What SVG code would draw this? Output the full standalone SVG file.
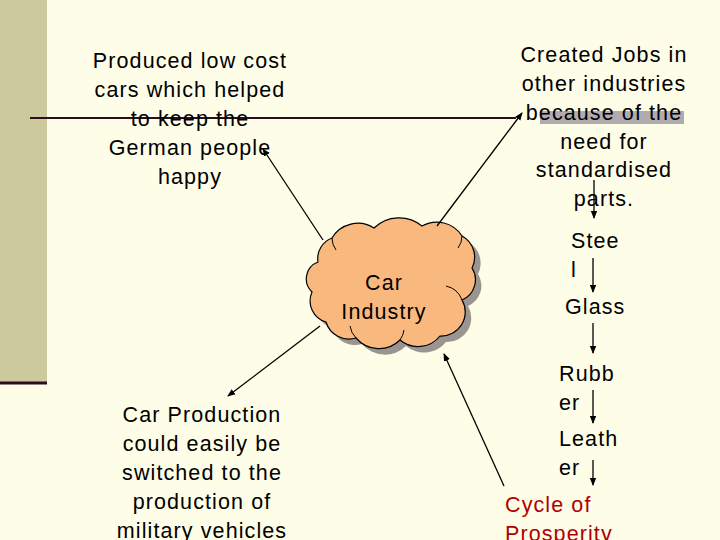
<svg xmlns="http://www.w3.org/2000/svg" width="720" height="540" viewBox="0 0 720 540">
<defs>
<marker id="ah" markerWidth="8" markerHeight="8" refX="7" refY="4" orient="auto" markerUnits="userSpaceOnUse">
<path d="M0,0.8 L8,4 L0,7.2 Z" fill="#000"/>
</marker>
<path id="cloud" d="M318 262 A22 22 0 0 1 332 238 A30 30 0 0 1 374 228 A36 36 0 0 1 422 226 A30 30 0 0 1 462 236 A24 24 0 0 1 472 268 A22 22 0 0 1 462 300 A24 24 0 0 1 440 336 A28 28 0 0 1 400 340 A30 30 0 0 1 356 338 A24 24 0 0 1 326 322 A22 22 0 0 1 312 292 A18 18 0 0 1 318 262 Z"/>
</defs>
<style>
text{font-family:"Liberation Sans",Arial,sans-serif;font-size:21.5px;fill:#000;letter-spacing:1.1px}
.c{text-anchor:middle}
.red{fill:#B00000}
.conn line{stroke:#000;stroke-width:1.3;marker-end:url(#ah)}
</style>
<rect width="720" height="540" fill="#FEFDE8"/>
<rect x="0" y="0" width="47" height="383" fill="#CCC99D"/>
<line x1="0" y1="383" x2="47" y2="383" stroke="#2A0E22" stroke-width="3"/>
<rect x="540" y="111" width="144" height="13" fill="#B0ABAE"/>
<line x1="30" y1="118" x2="516" y2="118" stroke="#2A0E22" stroke-width="1.8"/>

<g id="cloud-node">
<use href="#cloud" transform="translate(6,6)" fill="#9A9590"/>
<use href="#cloud" fill="#F9B97E" stroke="#000" stroke-width="1.2"/>
<path d="M332 238 A20 20 0 0 0 336 250 M462 236 A20 20 0 0 1 458 248 M462 300 A22 22 0 0 0 446 286 M356 338 A22 22 0 0 1 350 326 M400 340 A22 22 0 0 0 404 330" fill="none" stroke="#000" stroke-width="1"/>
<text class="c" x="384" y="290">Car</text>
<text class="c" x="384" y="319">Industry</text>
</g>

<g id="produced">
<text class="c" x="190" y="68">Produced low cost</text>
<text class="c" x="190" y="97">cars which helped</text>
<text class="c" x="190" y="126">to keep the</text>
<text class="c" x="190" y="155">German people</text>
<text class="c" x="190" y="184">happy</text>
</g>

<g id="created">
<text class="c" x="604" y="62">Created Jobs in</text>
<text class="c" x="604" y="91">other industries</text>
<text class="c" x="604" y="120">because of the</text>
<text class="c" x="604" y="149">need for</text>
<text class="c" x="604" y="177">standardised</text>
<text class="c" x="604" y="206">parts.</text>
</g>

<g id="steel"><text x="571" y="248">Stee</text><text x="571" y="277">l</text></g>
<g id="glass"><text x="565" y="314">Glass</text></g>
<g id="rubber"><text x="559" y="381">Rubb</text><text x="559" y="410">er</text></g>
<g id="leather"><text x="559" y="446">Leath</text><text x="559" y="475">er</text></g>
<g id="cycle"><text class="red" x="505" y="512">Cycle of</text><text class="red" x="505" y="541">Prosperity</text></g>

<g id="carprod">
<text class="c" x="202" y="422">Car Production</text>
<text class="c" x="202" y="451">could easily be</text>
<text class="c" x="202" y="480">switched to the</text>
<text class="c" x="202" y="509">production of</text>
<text class="c" x="202" y="538">military vehicles</text>
</g>

<g class="conn">
<line x1="323" y1="240" x2="263" y2="149"/>
<line x1="437" y1="226" x2="522" y2="113"/>
<line x1="320" y1="326" x2="228" y2="396"/>
<line x1="504" y1="486" x2="444" y2="354"/>
<line x1="594" y1="180" x2="594" y2="218"/>
<line x1="593" y1="258" x2="593" y2="292"/>
<line x1="593" y1="323" x2="593" y2="353"/>
<line x1="593" y1="390" x2="593" y2="423"/>
<line x1="593" y1="460" x2="593" y2="485"/>
</g>
</svg>
